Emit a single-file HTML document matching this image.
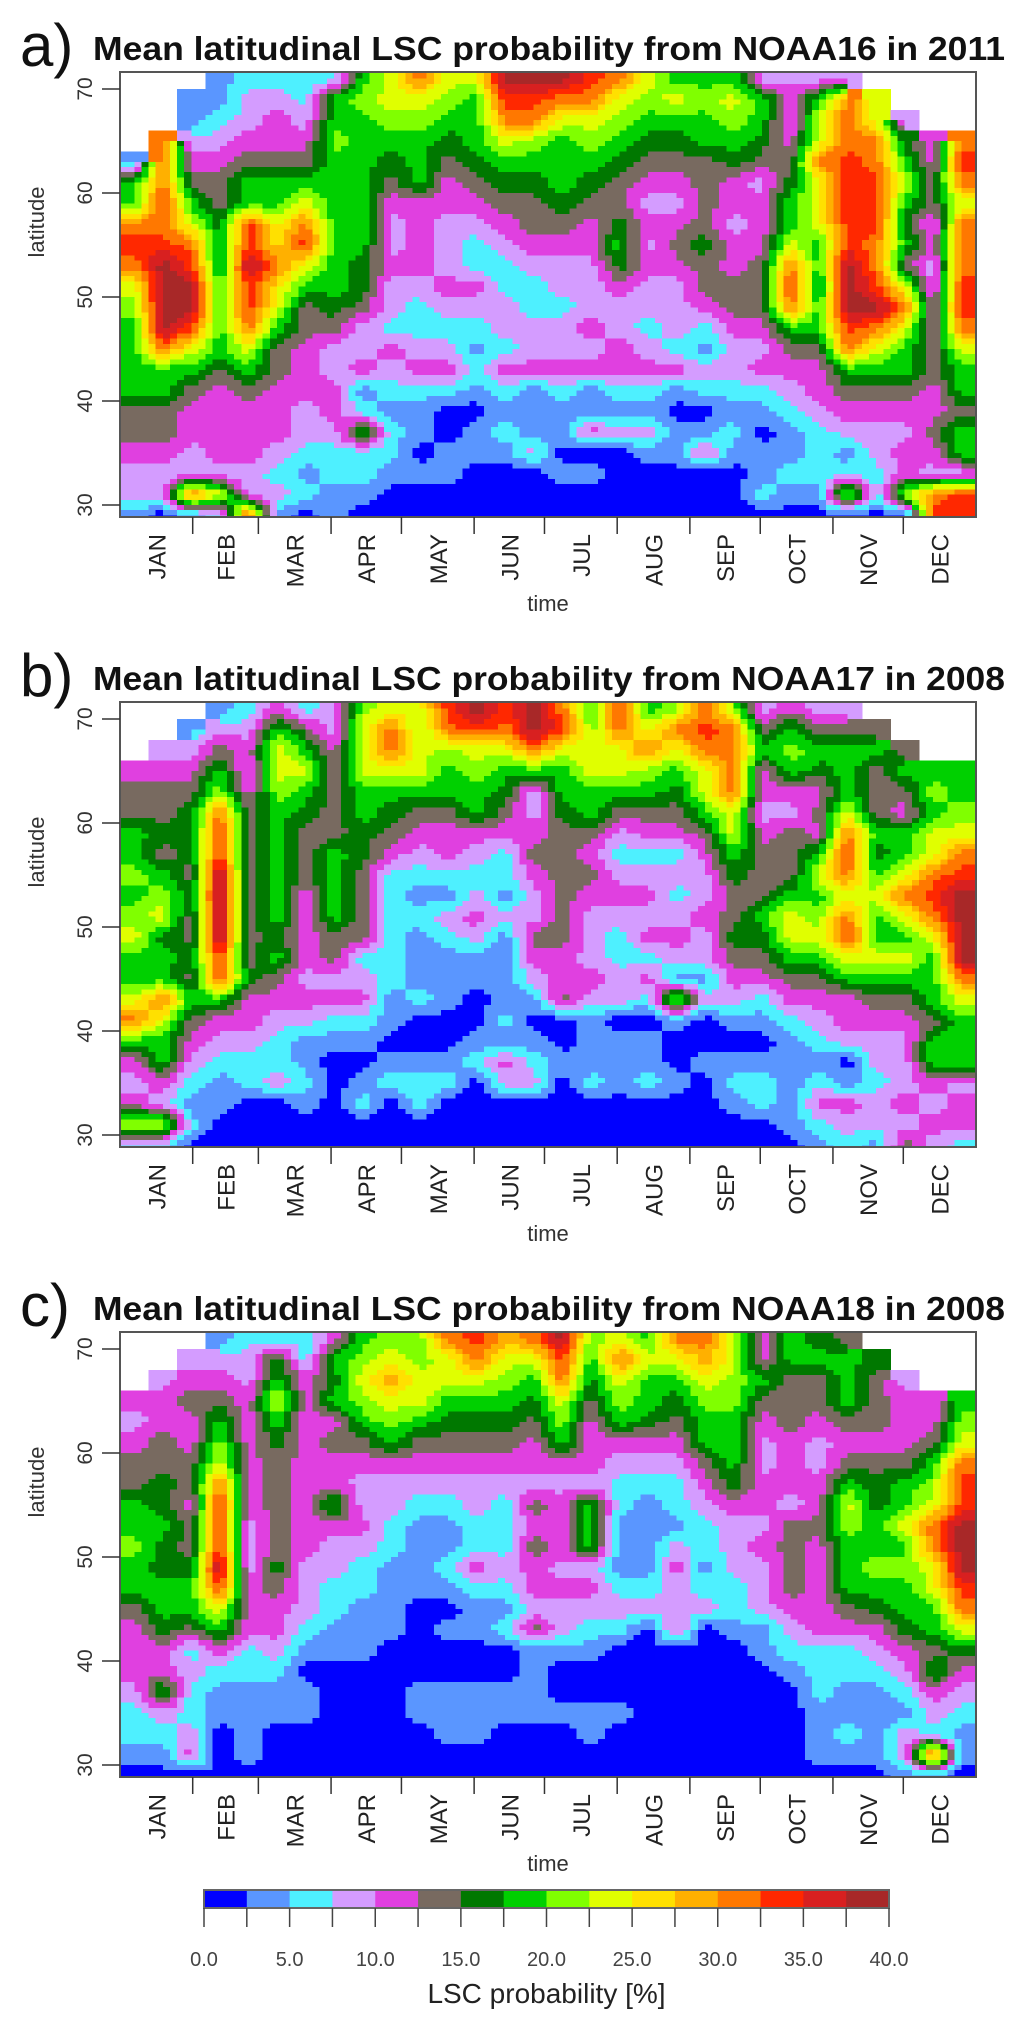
<!DOCTYPE html>
<html><head><meta charset="utf-8"><title>Mean latitudinal LSC probability</title>
<style>
html,body{margin:0;padding:0;background:#fff;}
svg{display:block;font-family:"Liberation Sans",sans-serif;}
</style></head>
<body>
<svg id="fig" width="1024" height="2030" viewBox="0 0 1024 2030" xmlns="http://www.w3.org/2000/svg"></svg>
<script>
// ---- data (each string = one time column, top lat 72 -> bottom 28, 2° bands; code = colour bin, '.' = no data)
const months = ['JAN','FEB','MAR','APR','MAY','JUN','JUL','AUG','SEP','OCT','NOV','DEC'];
const monthDays = [31,28,31,30,31,30,31,31,30,31,30,31];
const latTicks = [30,40,50,60,70];
const cbLabels = ['0.0','5.0','10.0','15.0','20.0','25.0','30.0','35.0','40.0'];
const binColors = ['#0000ff','#5a96ff','#4ef0ff','#d49cff','#e040e0','#786a60','#007800','#00d000','#80ff00','#e0ff00','#ffe000','#ffb000','#ff7800','#ff2800','#d82020','#a82828'];
const panelTitles = ['Mean latitudinal LSC probability from NOAA16 in 2011','Mean latitudinal LSC probability from NOAA17 in 2008','Mean latitudinal LSC probability from NOAA18 in 2008'];
const panelLetters = ['a','b','c'];
const panelA = ["....177cdc987777554331","...cccdcdffffc77554330",".1134579cdffd9754433c1","1123455666777754444392","2334577ddfddc97544433d","23445779aca97554443231","2234579cd9755444332120","2778777777765334432211","7877777776653341272210","9987654334332432122100","c987774444322342110100","9876544333432342001100","9777654322432121011000","fdc9765432233242121000","fdc8765543223341113000","fc97776543323342110100","dc98765443334341140100","c987655676433442130000","9876543434332342131000","7976543454333241011000","7877555565542132014000","7987644344554332121000","3776534445554342101120","343456779cdc7543211210","3799c99977677544322210","3cccdddddfffdc75431290",".99ccdddccdfc975433220","..367976759c9775434480","...44553433445544543cd","...cdc9cccddc9775773dd"];
const panelB = ["...455778789779c743492","..345565789677c9774392",".134566656556575432120","13578cddffffdd74321100","2343455555555644322000","4799877777767543223000","2579765554444343112100","3345555777755342100000","8999776655552342101200","9cc9765422222211012000","9899754321211120012200","dc87754421321110012000","fd98774323431100120000","dc97654221311112143000","ffc7334543354310123000","cd97765555554450010000","7899775454333431112000","dc99753234322330111000","79c8754234342420112000","8c97654232343191001000","cdc9975433433130010000","8cccc99765565431012100","3574434555765421012200","4787435557997542111110","3576454797897543212421","357779cdc9cd9744301432",".575557679779754332331","..5754779c979754333435","...78799cdc97775774343","...7789cdffffc97773442"];
const panelC = ["...4345577877544432210","..34455667667764473210",".345445545567752322340","1345789cdddfd974211000","2334444443334442211110","2679765555565443211000","2244444444433321011000","4767454474332211000000","7898754334322111000000","89b9874332211110000000","8899754321111000011000","c997654321121010011100","dc97654332242110011100","b987654322232120011000","c976544354544351111000","fdc9874344434331001000","8765444377734321001100","9c98743221112320001000","7977643211112300000000","c976543221343340000000","cb98775432212300000000","9988777643332210000000","4475433443433311000000","7755544435555432100000","6755433445444442221110","5777545798777542211210",".655545667787643211110","..34445779787764321331","...445789cc997757432d1","...789cddfffdc96432110"];
const panels = [panelA, panelB, panelC];

// ---- layout
const NS = 'http://www.w3.org/2000/svg';
const svg = document.getElementById('fig');
const PL = 120, PR = 976, PW = PR - PL, PH = 445;
const panelTops = [72, 702, 1332];
const LAT_TOP = 72, NROW = 22, NCOL = 30, SUB = 4;
function mk(tag, attrs, parent){ const e=document.createElementNS(NS,tag); for(const k in attrs) e.setAttribute(k,attrs[k]); (parent||svg).appendChild(e); return e; }
function xOfDay(d){ return PL + d/365*PW; }
function yOfLat(lat, T){ return T + 17 + (70 - lat)*10.4; }
function codeVal(ch){ return ch==='.' ? null : parseInt(ch,16); }

panels.forEach(function(cols, p){
  const T = panelTops[p];
  const g = mk('g', {});
  
  
  const grid = [];
  for (let c=0;c<NCOL;c++){ const s=(cols[c]||'').padEnd(NROW,(cols[c]||'0').slice(-1)); grid.push([]); for(let r=0;r<NROW;r++) grid[c].push(codeVal(s[r])); }
  const clip = mk('clipPath', {id:'clip'+p}, g);
  mk('rect', {x:PL, y:T, width:PW, height:PH}, clip);
  const hm = mk('g', {'clip-path':'url(#clip'+p+')', 'shape-rendering':'crispEdges'}, g);
  
  
  const NX = NCOL*SUB, NY = NROW*SUB;
  function val(c,r){ c=Math.max(0,Math.min(NCOL-1,c)); r=Math.max(0,Math.min(NROW-1,r)); return grid[c][r]; }
  for (let sy=0; sy<NY; sy++){
    const rr = (sy+0.5)/SUB - 0.5;
    const y0 = yOfLat(LAT_TOP - sy*2/SUB, T), y1 = yOfLat(LAT_TOP - (sy+1)*2/SUB, T);
    let runStart = -1, runBin = -2;
    const bins = [];
    for (let sx=0; sx<NX; sx++){
      const cc = (sx+0.5)/SUB - 0.5;
      const nc = Math.round(cc), nr = Math.round(rr);
      if (val(nc,nr) === null){ bins.push(-1); continue; }
      const c0=Math.floor(cc), r0=Math.floor(rr), fx=cc-c0, fy=rr-r0;
      const v00=val(c0,r0), v10=val(c0+1,r0), v01=val(c0,r0+1), v11=val(c0+1,r0+1);
      let v;
      if (v00===null||v10===null||v01===null||v11===null) v = val(nc,nr);
      else v = v00*(1-fx)*(1-fy)+v10*fx*(1-fy)+v01*(1-fx)*fy+v11*fx*fy;
      bins.push(Math.max(0,Math.min(15,Math.round(v))));
    }
    bins.push(-2);
    for (let sx=0; sx<bins.length; sx++){
      if (bins[sx] !== runBin){
        if (runBin >= 0){
          const xa = xOfDay(runStart/NX*365), xb = xOfDay(sx/NX*365);
          const rc = mk('rect', {x:xa.toFixed(2), y:y0.toFixed(2), width:(xb-xa+0.6).toFixed(2), height:(y1-y0+0.6).toFixed(2), fill:binColors[runBin]}, hm);
          
          
        }
        runBin = bins[sx]; runStart = sx;
      }
    }
  }
  const frame = mk('rect', {x:PL, y:T, width:PW, height:PH, fill:'none', stroke:'#555', 'stroke-width':2}, g);
  
  
  latTicks.forEach(function(lat){
    const y = yOfLat(lat, T);
    const tk = mk('line', {x1:PL-18, x2:PL, y1:y, y2:y, stroke:'#333', 'stroke-width':1.5}, g);
    
    
    const tl = mk('text', {transform:'translate(92,'+y+') rotate(-90)', 'text-anchor':'middle', 'font-size':21, fill:'#333'}, g);
    tl.textContent = String(lat);
    
    
  });
  let acc = 0;
  months.forEach(function(m, i){
    const mid = acc + monthDays[i]/2;
    if (i>0){
      const x = xOfDay(acc);
      const tk = mk('line', {x1:x, x2:x, y1:T+PH, y2:T+PH+17, stroke:'#333', 'stroke-width':1.5}, g);
      
      
    }
    const x = xOfDay(mid);
    const ml = mk('text', {transform:'translate('+(x+9).toFixed(1)+','+(T+PH+17)+') rotate(-90)', 'text-anchor':'end', 'font-size':24, fill:'#222'}, g);
    ml.textContent = m;
    
    
    acc += monthDays[i];
  });
  const xt = mk('text', {x:(PL+PR)/2, y:T+PH+94, 'text-anchor':'middle', 'font-size':22, fill:'#333'}, g);
  xt.textContent = 'time';
  
  
  const yt = mk('text', {transform:'translate(44,'+(T+150)+') rotate(-90)', 'text-anchor':'middle', 'font-size':22, fill:'#333'}, g);
  yt.textContent = 'latitude';
  
  
  const lt = mk('text', {x:20, y:T-6, 'font-size':60, fill:'#111'}, g);
  lt.textContent = panelLetters[p] + ')';
  
  
  const tt = mk('text', {x:93, y:T-12, 'font-size':33, 'font-weight':'bold', fill:'#111', textLength:912, lengthAdjust:'spacingAndGlyphs'}, g);
  tt.textContent = panelTitles[p];
  
  
});

// ---- colorbar
const CB_L = 204, CB_R = 889, CB_T = 1890, CB_B = 1908;
const cb = mk('g', {});


const bw = (CB_R-CB_L)/binColors.length;
binColors.forEach(function(col, i){
  const r = mk('rect', {x:(CB_L+i*bw).toFixed(2), y:CB_T, width:(bw+0.5).toFixed(2), height:CB_B-CB_T, fill:col}, cb);
  
  
});
const cbf = mk('rect', {x:CB_L, y:CB_T, width:CB_R-CB_L, height:CB_B-CB_T, fill:'none', stroke:'#666', 'stroke-width':2}, cb);


for (let i=0;i<=binColors.length;i++){
  const x = CB_L + i*bw;
  const tk = mk('line', {x1:x, x2:x, y1:CB_B, y2:CB_B+19, stroke:'#444', 'stroke-width':1.5}, cb);
  
  
}
cbLabels.forEach(function(lab, i){
  const t = mk('text', {x:(CB_L+i*2*bw).toFixed(1), y:1966, 'text-anchor':'middle', 'font-size':20, fill:'#444'}, cb);
  t.textContent = lab;
  
  
});
const cbt = mk('text', {x:(CB_L+CB_R)/2, y:2003, 'text-anchor':'middle', 'font-size':28, fill:'#222'}, cb);
cbt.textContent = 'LSC probability [%]';


</script>
</body></html>
